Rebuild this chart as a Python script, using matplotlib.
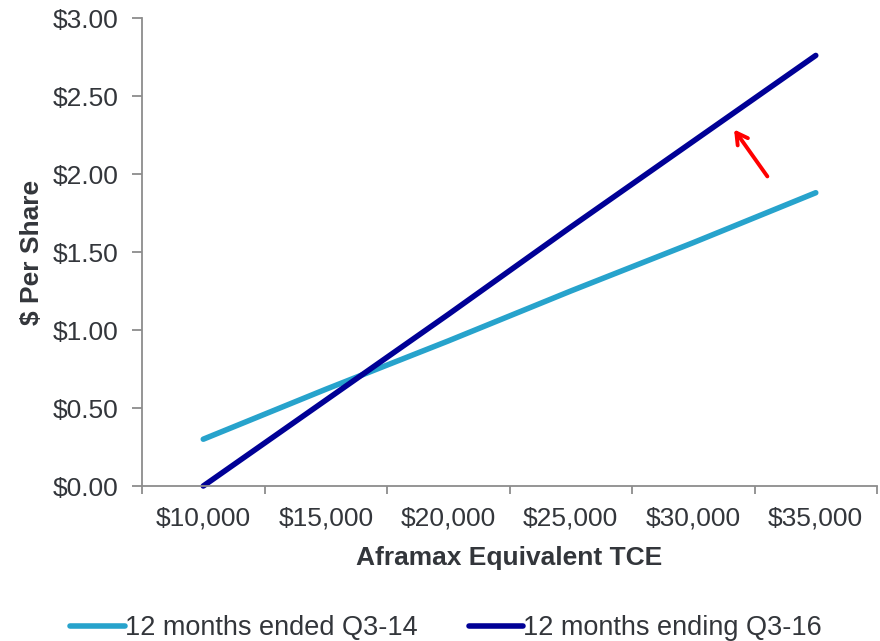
import matplotlib

matplotlib.use("Agg")

import matplotlib.pyplot as plt
from matplotlib.ticker import FixedLocator, NullFormatter

plt.rcParams["font.family"] = ["Liberation Sans", "DejaVu Sans"]

# Aframax TCE sensitivity: earnings per share at each rate level
tce_rates = [10000, 15000, 20000, 25000, 30000, 35000]
tce_labels = ["$10,000", "$15,000", "$20,000", "$25,000", "$30,000", "$35,000"]
eps_q3_14 = [0.30, 0.62, 0.93, 1.25, 1.56, 1.88]
eps_q3_16 = [0.00, 0.55, 1.10, 1.66, 2.21, 2.76]
series_names = ["12 months ended Q3-14", "12 months ending Q3-16"]

LIGHT = "#27A3CC"
DARK = "#000096"
TEXT = "#33363b"
SPINE = "#8c8c8c"

fig = plt.figure(figsize=(8.8, 6.41), dpi=100)
ax = fig.add_axes([0.1614, 0.2418, 0.8352, 0.7301])

ax.plot(tce_rates, eps_q3_14, color=LIGHT, lw=4.0, solid_capstyle="round",
        clip_on=False, label=series_names[0])
ax.plot(tce_rates, eps_q3_16, color=DARK, lw=4.0, solid_capstyle="round",
        clip_on=False, label=series_names[1])

# red arrow pointing at the Q3-16 line
ax.annotate("", xy=(31600, 2.30), xytext=(33090, 1.97),
            arrowprops=dict(arrowstyle="->,head_length=0.8,head_width=0.45",
                            color="#ff0000", lw=2.8))

# category-style x axis: ticks between the labels
ax.set_xlim(7500, 37500)
ax.xaxis.set_major_locator(FixedLocator([7500 + 5000 * i for i in range(7)]))
ax.xaxis.set_major_formatter(NullFormatter())
ax.xaxis.set_minor_locator(FixedLocator(tce_rates))
ax.set_xticklabels(tce_labels, minor=True)
ax.tick_params(axis="x", which="major", length=6, width=1.3, color=SPINE,
               direction="out")
ax.tick_params(axis="x", which="minor", length=0, pad=15, labelsize=19,
               labelcolor=TEXT)

ax.set_ylim(0, 3)
ax.set_yticks([0, 0.5, 1.0, 1.5, 2.0, 2.5, 3.0])
ax.set_yticklabels([f"${v:.2f}" for v in ax.get_yticks()])
ax.tick_params(axis="y", length=7, width=1.3, color=SPINE, pad=10,
               labelsize=19, labelcolor=TEXT)

for side in ("top", "right"):
    ax.spines[side].set_visible(False)
for side in ("left", "bottom"):
    ax.spines[side].set_color(SPINE)
    ax.spines[side].set_linewidth(1.3)

ax.set_xlabel("Aframax Equivalent TCE", fontsize=19, fontweight="bold",
              color=TEXT, labelpad=11)
ax.set_ylabel("$ Per Share", fontsize=19, fontweight="bold", color=TEXT,
              labelpad=6)

fig.legend(loc="center", bbox_to_anchor=(446 / 880, 1 - 628 / 641), ncol=2,
           frameon=False, fontsize=19.5, handlelength=2.0, handletextpad=0.0,
           columnspacing=1.9, labelcolor=TEXT)

fig.savefig("out.png", dpi=100)
